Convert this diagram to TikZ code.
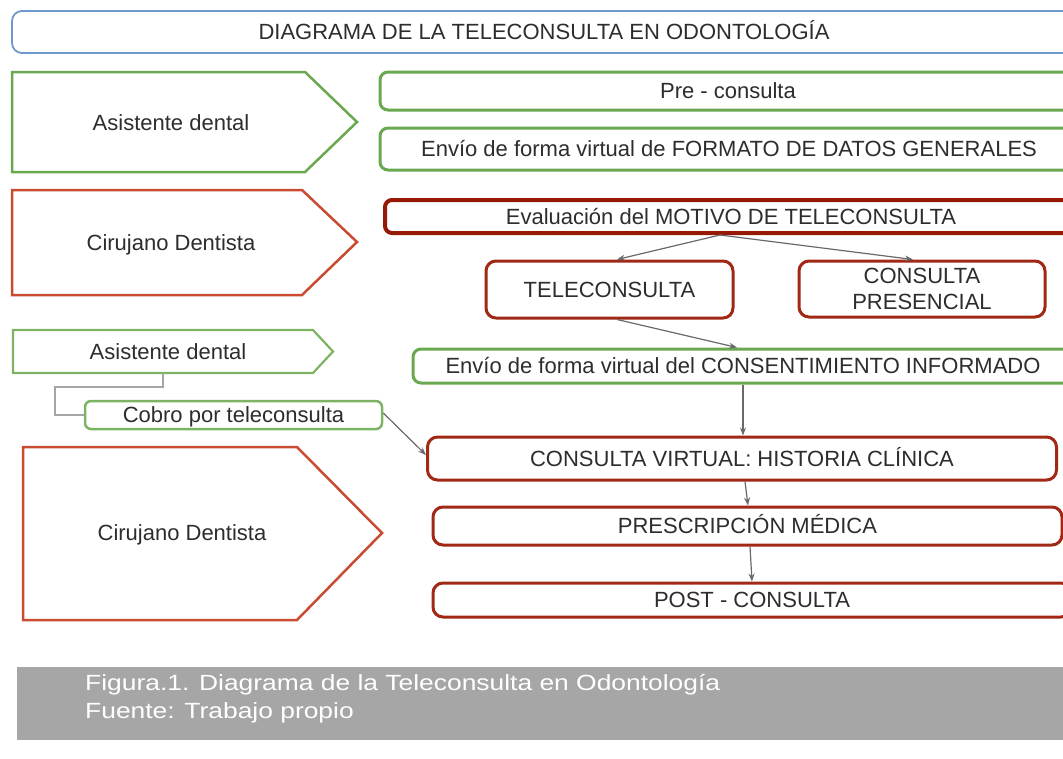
\documentclass[tikz,border=0pt]{standalone}
\usepackage{fontspec}
\setmainfont{Liberation Sans}
\newfontfamily\capfont[FakeStretch=1.2]{Liberation Sans}
\usetikzlibrary{arrows.meta}
\definecolor{tblue}{RGB}{111,152,205}
\definecolor{tgreen}{RGB}{106,168,79}
\definecolor{lgreen}{RGB}{125,180,100}
\definecolor{pred}{RGB}{200,75,50}
\definecolor{bred}{RGB}{160,40,20}
\definecolor{ered}{RGB}{150,25,5}
\definecolor{txt}{RGB}{45,45,45}
\definecolor{capgray}{RGB}{166,166,166}
\definecolor{lngray}{RGB}{105,105,105}
\definecolor{elbgray}{RGB}{165,165,165}
\begin{document}
\begin{tikzpicture}[x=1pt,y=-1pt,
  every node/.style={font=\fontsize{22}{26}\selectfont, text=txt, inner sep=0pt},
  lbl/.style={text height=15.75pt, text depth=0pt},
  rbox/.style={lbl, draw, rounded corners=8pt, fill=white},
  gbox/.style={rbox, draw=tgreen, line width=3pt},
  lgbox/.style={rbox, draw=lgreen, line width=2.5pt, rounded corners=6pt},
  redbox/.style={rbox, draw=bred, line width=3pt, rounded corners=10pt},
  evalbox/.style={rbox, draw=ered, line width=4pt, rounded corners=7pt},
  titlebox/.style={rbox, draw=tblue, line width=1.8pt, rounded corners=10pt},
  gpent/.style={draw=tgreen, line width=2.5pt, line join=miter},
  lgpent/.style={draw=lgreen, line width=2.2pt, line join=miter},
  rpent/.style={draw=pred, line width=2.5pt, line join=miter},
  arr/.style={draw=lngray, line width=1.2pt, -{Stealth[length=8pt,width=6pt]}},
  elbow/.style={draw=elbgray, line width=2pt},
  captxt/.style={font=\capfont\fontsize{22}{26}\selectfont, text=white, anchor=base west}
]
\useasboundingbox (0,0) rectangle (1063,758);
\clip (0,0) rectangle (1063,758);

% title
\node[titlebox, minimum width=1064pt, minimum height=42pt] (title) at (544,32) {DIAGRAMA DE LA TELECONSULTA EN ODONTOLOGÍA};

% role pentagons
\draw[gpent] (12,72) -- (305,72) -- (357,122) -- (305,172) -- (12,172) -- cycle;
\node[lbl] (asis1) at (171,123) {Asistente dental};
\draw[rpent] (12,190) -- (302,190) -- (357,242) -- (302,295) -- (12,295) -- cycle;
\node[lbl] (ciru1) at (171,243) {Cirujano Dentista};
\draw[lgpent] (13,330) -- (313,330) -- (333,351.5) -- (313,373) -- (13,373) -- cycle;
\node[lbl] (asis2) at (168,352) {Asistente dental};
\coordinate (asis2b) at (163,373);
\draw[rpent] (23,447) -- (297,447) -- (382,533) -- (297,620) -- (23,620) -- cycle;
\node[lbl] (ciru2) at (182,533) {Cirujano Dentista};

% steps
\node[gbox, minimum width=696pt, minimum height=38pt] (pre) at (728,91) {Pre - consulta};
\node[gbox, minimum width=698pt, minimum height=42pt] (formato) at (729,149) {Envío de forma virtual de FORMATO DE DATOS GENERALES};
\node[evalbox, minimum width=692pt, minimum height=33pt] (eval) at (731,216.5) {Evaluación del MOTIVO DE TELECONSULTA};
\node[redbox, minimum width=247pt, minimum height=57pt] (tele) at (609.5,289.5) {TELECONSULTA};
\node[draw=bred, line width=3pt, rounded corners=10pt, fill=white, align=center,
      minimum width=246pt, minimum height=56pt] (pres) at (922,289) {CONSULTA\\PRESENCIAL};
\node[gbox, minimum width=660pt, minimum height=34pt] (consent) at (743,366) {Envío de forma virtual del CONSENTIMIENTO INFORMADO};
\node[lgbox, minimum width=297pt, minimum height=28pt] (cobro) at (233.5,415) {Cobro por teleconsulta};
\node[redbox, minimum width=629pt, minimum height=43pt] (hist) at (742,458.5) {CONSULTA VIRTUAL: HISTORIA CLÍNICA};
\node[redbox, minimum width=629pt, minimum height=38pt] (presc) at (747.5,526) {PRESCRIPCIÓN MÉDICA};
\node[redbox, minimum width=638pt, minimum height=34pt] (post) at (752,600) {POST - CONSULTA};

% connectors
\coordinate (elb) at (55,387);
\draw[elbow] (asis2b) |- (elb) |- (cobro.west);
\draw[arr] ([xshift=-11pt]eval.south) -- ([xshift=7.5pt]tele.north);
\draw[arr] ([xshift=-11pt]eval.south) -- ([xshift=-9pt]pres.north);
\draw[arr] ([xshift=7.5pt]tele.south) -- ([xshift=-6pt]consent.north);
\draw[arr] (consent.south) -- ([xshift=1pt]hist.north);
\draw[arr] ([xshift=3pt]hist.south) -- ([xshift=0.5pt]presc.north);
\draw[arr] ([xshift=2.5pt]presc.south) -- (post.north);
\draw[arr] ([yshift=2pt]cobro.east) -- ([yshift=3.5pt]hist.west);

% caption
\fill[capgray] (17,667) rectangle (1063,740);
\node[captxt] (cap1) at (85,690) {Figura.1. Diagrama de la Teleconsulta en Odontología};
\node[captxt] (cap2) at (85,718) {Fuente: Trabajo propio};
\end{tikzpicture}
\end{document}
